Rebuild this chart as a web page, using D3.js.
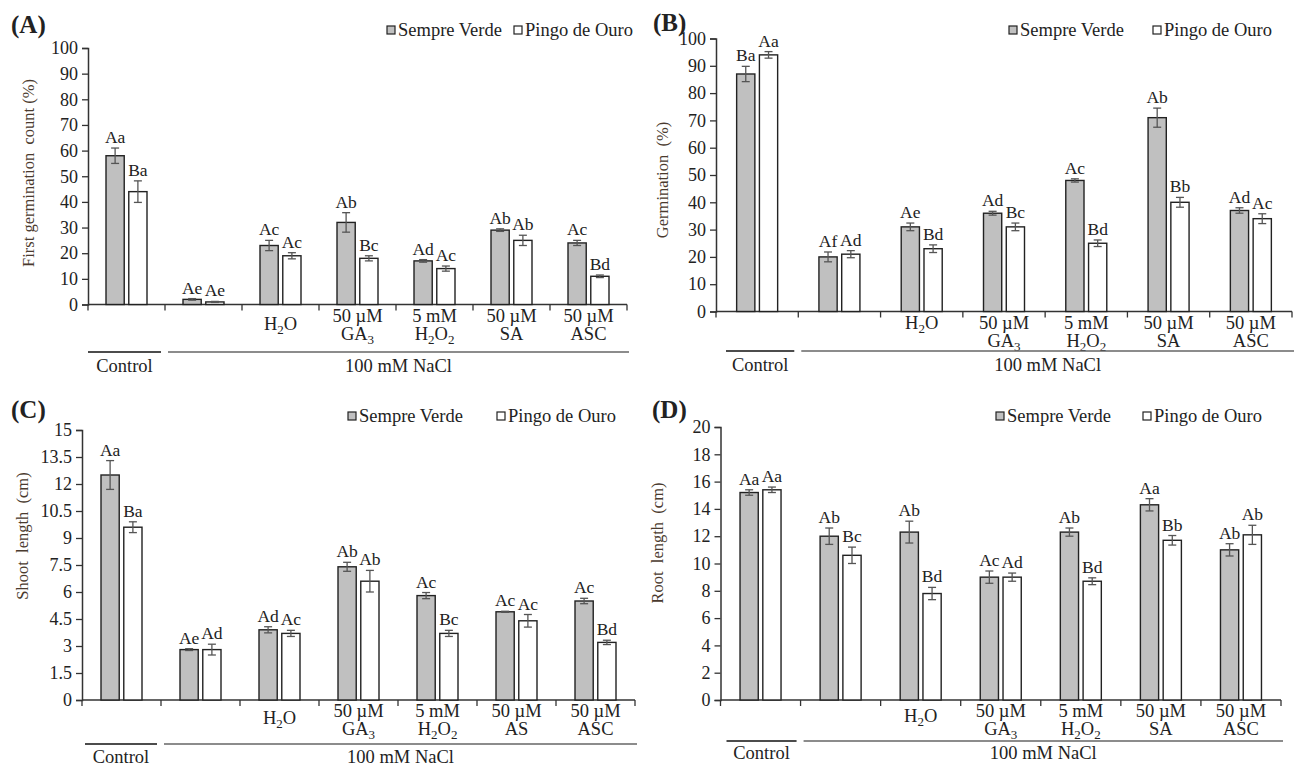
<!DOCTYPE html>
<html><head><meta charset="utf-8">
<script src="https://cdn.jsdelivr.net/npm/d3@7"></script>
<style>
body{margin:0;background:#fff}
svg{display:block}
text{font-family:"Liberation Serif","Times New Roman",serif}
</style>
</head><body>
<svg id="chart" width="1295" height="767"></svg>
<script>
// ---------- DATA ----------
const categories = ["Control", "NaCl", "H2O", "GA3", "H2O2", "SA", "ASC"];
const seriesNames = ["Sempre Verde", "Pingo de Ouro"];
const catLabels = ["", "", "H_2O", "50 µM|GA_3", "5 mM|H_2O_2", "50 µM|SA", "50 µM|ASC"];
const catLabelsC = ["", "", "H_2O", "50 µM|GA_3", "5 mM|H_2O_2", "50 µM|AS", "50 µM|ASC"];
const groupLabels = ["Control", "100 mM NaCl"];

// (A) First germination count (%)
const firstCountSV = [58, 2, 23, 32, 17, 29, 24];
const firstCountPO = [44, 1, 19, 18, 14, 25, 11];
const firstCountErrSV = [3, 0.3, 2, 3.8, 0.5, 0.5, 1];
const firstCountErrPO = [4.2, 0.2, 1.2, 1, 1, 2, 0.5];
const firstCountLetSV = ["Aa", "Ae", "Ac", "Ab", "Ad", "Ab", "Ac"];
const firstCountLetPO = ["Ba", "Ae", "Ac", "Bc", "Ac", "Ab", "Bd"];
const firstCountTicks = [0, 10, 20, 30, 40, 50, 60, 70, 80, 90, 100];

// (B) Germination (%)
const germSV = [87, 20, 31, 36, 48, 71, 37];
const germPO = [94, 21, 23, 31, 25, 40, 34];
const germErrSV = [2.8, 1.8, 1.4, 0.7, 0.6, 3.5, 1];
const germErrPO = [1.2, 1.3, 1.4, 1.4, 1.2, 1.8, 1.8];
const germLetSV = ["Ba", "Af", "Ae", "Ad", "Ac", "Ab", "Ad"];
const germLetPO = ["Aa", "Ad", "Bd", "Bc", "Bd", "Bb", "Ac"];
const germTicks = [0, 10, 20, 30, 40, 50, 60, 70, 80, 90, 100];

// (C) Shoot length (cm)
const shootSV = [12.5, 2.8, 3.9, 7.4, 5.8, 4.9, 5.5];
const shootPO = [9.6, 2.8, 3.7, 6.6, 3.7, 4.4, 3.2];
const shootErrSV = [0.8, 0.05, 0.17, 0.25, 0.17, 0.03, 0.15];
const shootErrPO = [0.3, 0.3, 0.17, 0.6, 0.17, 0.35, 0.12];
const shootLetSV = ["Aa", "Ae", "Ad", "Ab", "Ac", "Ac", "Ac"];
const shootLetPO = ["Ba", "Ad", "Ac", "Ab", "Bc", "Ac", "Bd"];
const shootTicks = [0, 1.5, 3, 4.5, 6, 7.5, 9, 10.5, 12, 13.5, 15];

// (D) Root length (cm)
const rootSV = [15.2, 12, 12.3, 9, 12.3, 14.3, 11];
const rootPO = [15.4, 10.6, 7.8, 9, 8.7, 11.7, 12.1];
const rootErrSV = [0.2, 0.6, 0.8, 0.45, 0.3, 0.45, 0.45];
const rootErrPO = [0.2, 0.6, 0.45, 0.3, 0.25, 0.35, 0.7];
const rootLetSV = ["Aa", "Ab", "Ab", "Ac", "Ab", "Aa", "Ab"];
const rootLetPO = ["Aa", "Bc", "Bd", "Ad", "Bd", "Bb", "Ab"];
const rootTicks = [0, 2, 4, 6, 8, 10, 12, 14, 16, 18, 20];

// ---------- PANELS ----------
const panels = [
  { tag: "(A)", ylabel: "First germination  count (%)", ticks: firstCountTicks, labels: catLabels,
    sv: firstCountSV, po: firstCountPO, esv: firstCountErrSV, epo: firstCountErrPO, lsv: firstCountLetSV, lpo: firstCountLetPO,
    L: { left: 88, right: 627, top: 48, bottom: 304.5, tagX: 11, tagY: 33, ylX: 34, ylY: 173,
         legX: 387, leg2X: 514, legY: 30, cy1: 316, cy2: 334, cys: 324, gly: 352, gty: 372, cs: 0 } },
  { tag: "(B)", ylabel: "Germination  (%)", ticks: germTicks, labels: catLabels,
    sv: germSV, po: germPO, esv: germErrSV, epo: germErrPO, lsv: germLetSV, lpo: germLetPO,
    L: { left: 716, right: 1292, top: 38.5, bottom: 311.5, tagX: 653, tagY: 31, ylX: 668, ylY: 180,
         legX: 1009, leg2X: 1153, legY: 30, cy1: 323, cy2: 341, cys: 323, gly: 351, gty: 371, cs: 10 } },
  { tag: "(C)", ylabel: "Shoot  length  (cm)", ticks: shootTicks, labels: catLabelsC,
    sv: shootSV, po: shootPO, esv: shootErrSV, epo: shootErrPO, lsv: shootLetSV, lpo: shootLetPO,
    L: { left: 82, right: 635, top: 430, bottom: 700, tagX: 11, tagY: 418, ylX: 28, ylY: 536,
         legX: 348, leg2X: 497, legY: 416, cy1: 711, cy2: 729, cys: 718, gly: 744, gty: 763, cs: 3 } },
  { tag: "(D)", ylabel: "Root  length  (cm)", ticks: rootTicks, labels: catLabels,
    sv: rootSV, po: rootPO, esv: rootErrSV, epo: rootErrPO, lsv: rootLetSV, lpo: rootLetPO,
    L: { left: 720.5, right: 1281, top: 427, bottom: 700, tagX: 652, tagY: 418, ylX: 663, ylY: 543,
         legX: 996, leg2X: 1143, legY: 416, cy1: 711, cy2: 729, cys: 716, gly: 741, gty: 759, cs: 6 } }
];

const svg = d3.select("#chart");
const INK = "#222";
const GRAY = "#c0c0c0";
const FONT = '"Liberation Serif","Times New Roman",serif';

function richText(sel, str) {
  const parts = str.split(/(_\d)/).filter(s => s.length);
  let sub = false;
  parts.forEach(p => {
    if (p[0] === "_") {
      sel.append("tspan").attr("font-size", "13px").attr("dy", 4).text(p.slice(1));
      sub = true;
    } else {
      const t = sel.append("tspan").text(p);
      if (sub) { t.attr("dy", -4); sub = false; }
    }
  });
}

panels.forEach(P => {
  const L = P.L;
  const g = svg.append("g");
  const ymax = P.ticks[P.ticks.length - 1];
  const y = d3.scaleLinear().domain([0, ymax]).range([L.bottom, L.top]);
  const x = d3.scaleBand().domain(d3.range(categories.length)).range([L.left, L.right]).padding(0);
  const xs = d3.scaleBand().domain([0, 1]).range([-20.5, 20.5]).paddingInner(0.2);

  // panel tag
  g.append("text").attr("x", L.tagX).attr("y", L.tagY).attr("font-size", "25px")
    .attr("font-weight", "bold").attr("fill", INK).text(P.tag);

  // y axis
  const yAxis = d3.axisLeft(y).tickValues(P.ticks).tickSize(6).tickPadding(4).tickFormat(d => String(d));
  const ya = g.append("g").attr("transform", `translate(${L.left},0)`).call(yAxis);
  ya.select(".domain").attr("stroke", "#333").attr("stroke-width", 1.5);
  ya.selectAll(".tick line").attr("stroke", "#333").attr("stroke-width", 1.3);
  ya.selectAll(".tick text").attr("font-size", "18px").attr("fill", INK).attr("font-family", FONT);

  // y label
  g.append("text").attr("transform", `translate(${L.ylX},${L.ylY}) rotate(-90)`)
    .attr("text-anchor", "middle").attr("font-size", "16.5px").attr("fill", "#4a3a2e")
    .style("white-space", "pre").text(P.ylabel);

  // x axis line + boundary ticks
  g.append("line").attr("x1", L.left).attr("x2", L.right).attr("y1", L.bottom).attr("y2", L.bottom)
    .attr("stroke", "#333").attr("stroke-width", 1.5);
  const bounds = d3.range(categories.length + 1).map(i => i < categories.length ? x(i) : L.right);
  g.selectAll(".xt").data(bounds).join("line")
    .attr("x1", d => d).attr("x2", d => d).attr("y1", L.bottom).attr("y2", L.bottom + 6)
    .attr("stroke", "#333").attr("stroke-width", 1.3);

  // category labels
  P.labels.forEach((lab, i) => {
    if (!lab) return;
    const cx = x(i) + x.bandwidth() / 2;
    const lines = lab.split("|");
    lines.forEach((ln, k) => {
      const yy = lines.length === 1 ? L.cys : (k === 0 ? L.cy1 : L.cy2);
      const t = g.append("text").attr("x", cx).attr("y", yy + 6).attr("text-anchor", "middle")
        .attr("font-size", "18.5px").attr("fill", INK);
      richText(t, ln);
    });
  });

  // bars
  const rows = categories.map((c, i) => [
    { i, s: 0, v: P.sv[i], e: P.esv[i], l: P.lsv[i] },
    { i, s: 1, v: P.po[i], e: P.epo[i], l: P.lpo[i] }
  ]).flat();
  const bx = d => x(d.i) + x.bandwidth() / 2 + xs(d.s);
  g.selectAll(".bar").data(rows).join("rect")
    .attr("x", bx).attr("width", xs.bandwidth())
    .attr("y", d => y(d.v)).attr("height", d => y(0) - y(d.v))
    .attr("fill", d => d.s === 0 ? GRAY : "#fff")
    .attr("stroke", INK).attr("stroke-width", 1.4);

  // error bars
  const ex = d => bx(d) + xs.bandwidth() / 2;
  const eg = g.append("g").attr("stroke", "#555").attr("stroke-width", 1.3);
  eg.selectAll(".ev").data(rows).join("line")
    .attr("x1", ex).attr("x2", ex).attr("y1", d => y(d.v - d.e)).attr("y2", d => y(d.v + d.e));
  eg.selectAll(".et").data(rows).join("line")
    .attr("x1", d => ex(d) - 4).attr("x2", d => ex(d) + 4).attr("y1", d => y(d.v + d.e)).attr("y2", d => y(d.v + d.e));
  eg.selectAll(".eb").data(rows).join("line")
    .attr("x1", d => ex(d) - 4).attr("x2", d => ex(d) + 4).attr("y1", d => y(d.v - d.e)).attr("y2", d => y(d.v - d.e));

  // letters
  g.selectAll(".let").data(rows).join("text")
    .attr("x", ex).attr("y", d => y(d.v + d.e) - 5).attr("text-anchor", "middle")
    .attr("font-size", "17.5px").attr("fill", INK).text(d => d.l);

  // legend
  [[L.legX, 0], [L.leg2X, 1]].forEach(([lx, s]) => {
    g.append("rect").attr("x", lx).attr("y", L.legY - 4).attr("width", 8).attr("height", 8)
      .attr("fill", s === 0 ? GRAY : "#fff").attr("stroke", INK).attr("stroke-width", 1.2);
    g.append("text").attr("x", lx + 11).attr("y", L.legY + 6).attr("font-size", "18.5px")
      .attr("fill", INK).text(seriesNames[s]);
  });

  // group lines
  const t1 = x(1);
  const segs = [[L.left + L.cs, t1 - 4, "#111"], [t1 + 3, L.right + 2, "#666"]];
  segs.forEach(([a, b, col], k) => {
    g.append("line").attr("x1", a).attr("x2", b).attr("y1", L.gly).attr("y2", L.gly)
      .attr("stroke", col).attr("stroke-width", 1.6);
    g.append("text").attr("x", (a + b) / 2).attr("y", L.gty).attr("text-anchor", "middle")
      .attr("font-size", "18.5px").attr("fill", INK).text(groupLabels[k]);
  });
});
</script>
</body></html>
